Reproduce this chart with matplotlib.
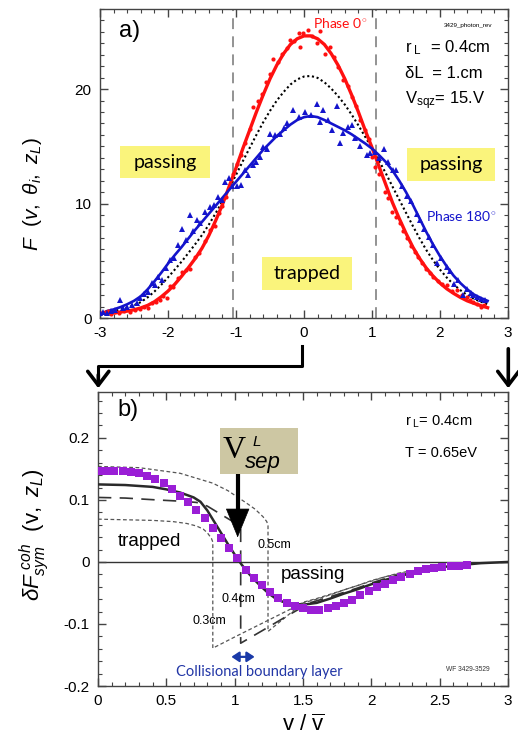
import numpy as np
import matplotlib.pyplot as plt
from matplotlib.patches import Rectangle, FancyArrowPatch
from matplotlib.lines import Line2D
from matplotlib.ticker import MultipleLocator

plt.rcParams["font.family"] = ["Liberation Sans", "DejaVu Sans"]
plt.rcParams["mathtext.fontset"] = "custom"
plt.rcParams["mathtext.rm"] = "Liberation Sans"
plt.rcParams["mathtext.it"] = "Liberation Sans:italic"
plt.rcParams["axes.unicode_minus"] = False

# ---- panel a) fitted curves on a common v grid ----
v_fit = [-2.9, -2.8, -2.7, -2.6, -2.5, -2.4, -2.3, -2.2, -2.1, -2.0,
         -1.9, -1.8, -1.7, -1.6, -1.5, -1.4, -1.3, -1.2, -1.1, -1.0,
         -0.9, -0.8, -0.7, -0.6, -0.5, -0.4, -0.3, -0.2, -0.1, 0.0,
         0.1, 0.2, 0.3, 0.4, 0.5, 0.6, 0.7, 0.8, 0.9, 1.0,
         1.1, 1.2, 1.3, 1.4, 1.5, 1.6, 1.7, 1.8, 1.9, 2.0,
         2.1, 2.2, 2.3, 2.4, 2.5, 2.6, 2.7]
red_fit = [0.40, 0.45, 0.52, 0.60, 0.72, 0.88, 1.10, 1.42, 1.85, 2.35,
           2.95, 3.65, 4.40, 5.20, 6.10, 7.20, 8.50, 9.90, 11.50, 13.10,
           14.80, 16.40, 18.00, 19.50, 20.90, 22.10, 23.10, 23.90, 24.40, 24.65,
           24.65, 24.40, 23.90, 23.10, 22.10, 20.90, 19.50, 18.00, 16.40, 14.90,
           13.30, 11.70, 10.10, 8.70, 7.40, 6.20, 5.20, 4.35, 3.65, 3.05,
           2.55, 2.15, 1.80, 1.50, 1.28, 1.08, 0.90]
blue_fit = [0.60, 0.75, 0.95, 1.20, 1.50, 1.90, 2.50, 3.20, 3.95, 4.75,
            5.50, 6.20, 6.95, 7.70, 8.40, 9.10, 9.80, 10.50, 11.20, 11.90,
            12.60, 13.30, 14.00, 14.70, 15.30, 15.90, 16.40, 16.90, 17.30, 17.55,
            17.65, 17.55, 17.30, 17.00, 16.70, 16.40, 16.05, 15.65, 15.25, 14.80,
            14.25, 13.65, 12.90, 12.00, 11.00, 9.90, 8.70, 7.50, 6.40, 5.40,
            4.50, 3.70, 3.05, 2.50, 2.05, 1.75, 1.50]
avg_fit = [0.50, 0.60, 0.74, 0.90, 1.11, 1.39, 1.80, 2.31, 2.90, 3.55,
           4.23, 4.93, 5.68, 6.45, 7.25, 8.15, 9.15, 10.20, 11.35, 12.50,
           13.70, 14.85, 16.00, 17.10, 18.10, 19.00, 19.75, 20.40, 20.85, 21.10,
           21.15, 20.98, 20.60, 20.05, 19.40, 18.65, 17.78, 16.83, 15.83, 14.85,
           13.78, 12.68, 11.50, 10.35, 9.20, 8.05, 6.95, 5.93, 5.03, 4.23,
           3.53, 2.93, 2.43, 2.00, 1.67, 1.42, 1.20]

# ---- panel a) measured points ----
v_red = [-2.98, -2.92, -2.88, -2.84, -2.78, -2.72, -2.65, -2.56, -2.48, -2.41,
         -2.35, -2.29, -2.23, -2.17, -2.12, -2.07, -2.02, -1.97, -1.92, -1.86,
         -1.80, -1.73, -1.68, -1.60, -1.55, -1.46, -1.38, -1.31, -1.25, -1.21,
         -1.15, -1.09, -1.04, -0.99, -0.92, -0.87, -0.80, -0.745, -0.67, -0.62,
         -0.56, -0.50, -0.45, -0.38, -0.33, -0.25, -0.21, -0.14, -0.08, -0.06,
         -0.01, 0.06, 0.12, 0.19, 0.235, 0.31, 0.38, 0.44, 0.50, 0.58,
         0.64, 0.70, 0.76, 0.82, 0.90, 0.95, 0.995, 1.04, 1.10, 1.19,
         1.24, 1.29, 1.36, 1.41, 1.46, 1.51, 1.57, 1.63, 1.68, 1.73,
         1.80, 1.85, 1.90, 1.97, 2.03, 2.10, 2.17, 2.25, 2.32, 2.39,
         2.44, 2.49, 2.55, 2.61, 2.65]
F_red = [0.41, 0.50, 0.64, 0.35, 0.55, 0.42, 0.60, 0.55, 0.72, 0.76,
         0.95, 0.90, 1.30, 1.42, 1.57, 1.90, 1.72, 2.80, 2.70, 3.50,
         4.05, 4.20, 4.30, 5.30, 5.65, 6.75, 7.70, 8.00, 9.20, 9.80,
         10.60, 11.60, 12.60, 13.50, 14.20, 15.30, 16.50, 18.45, 19.00, 19.60,
         20.60, 21.30, 22.60, 22.40, 23.10, 23.60, 24.30, 24.20, 24.90, 23.70,
         24.90, 25.20, 24.60, 24.00, 25.10, 23.10, 23.70, 22.80, 21.90, 20.80,
         20.30, 19.30, 18.50, 17.30, 16.40, 15.60, 14.10, 13.20, 12.60, 11.00,
         10.50, 9.30, 8.85, 8.30, 7.60, 7.00, 6.30, 5.80, 5.30, 4.80,
         4.30, 3.90, 3.60, 3.20, 3.00, 2.90, 2.40, 2.45, 2.00, 1.86,
         1.60, 1.42, 1.20, 1.00, 1.10]
v_blue = [-3.0, -2.95, -2.90, -2.84, -2.78, -2.71, -2.66, -2.61, -2.53, -2.46,
          -2.41, -2.35, -2.30, -2.24, -2.19, -2.14, -2.09, -2.03, -1.97, -1.91,
          -1.85, -1.80, -1.74, -1.68, -1.63, -1.58, -1.53, -1.46, -1.38, -1.32,
          -1.26, -1.20, -1.16, -1.10, -1.06, -0.99, -0.92, -0.87, -0.82, -0.75,
          -0.70, -0.65, -0.60, -0.55, -0.50, -0.43, -0.35, -0.30, -0.25, -0.166,
          -0.08, 0.015, 0.10, 0.19, 0.235, 0.28, 0.358, 0.407, 0.48, 0.53,
          0.578, 0.64, 0.70, 0.75, 0.82, 0.92, 0.97, 1.05, 1.11, 1.17,
          1.24, 1.31, 1.36, 1.44, 1.51, 1.57, 1.66, 1.71, 1.77, 1.84,
          1.90, 1.95, 2.02, 2.10, 2.15, 2.20, 2.27, 2.34, 2.40, 2.45,
          2.49, 2.55, 2.61, 2.66]
F_blue = [0.41, 0.55, 0.47, 0.60, 0.70, 1.57, 0.85, 0.99, 1.14, 1.34,
          1.72, 2.10, 2.30, 3.03, 2.88, 3.60, 3.32, 4.40, 5.07, 5.20,
          6.40, 7.80, 6.80, 9.00, 7.60, 8.56, 8.27, 9.30, 9.70, 9.90,
          10.60, 10.30, 11.90, 12.20, 11.50, 11.50, 11.60, 12.90, 12.50, 13.40,
          13.65, 14.10, 14.96, 14.80, 16.10, 16.00, 16.10, 16.60, 17.00, 18.20,
          17.60, 18.00, 17.70, 18.70, 17.10, 18.20, 17.30, 16.40, 18.50, 15.30,
          16.20, 16.70, 16.90, 15.70, 15.00, 14.20, 14.40, 14.50, 14.00, 14.80,
          13.60, 12.90, 12.90, 11.50, 10.70, 10.20, 9.10, 8.60, 7.80, 7.10,
          6.40, 4.80, 5.20, 4.50, 4.10, 3.00, 3.30, 2.00, 2.50, 2.20,
          2.00, 1.80, 1.70, 1.60]
v_sep_a = [-1.05, 1.06]

# ---- panel b) ----
v_sq = [0.00, 0.06, 0.12, 0.18, 0.24, 0.30, 0.36, 0.42, 0.48, 0.54,
        0.60, 0.66, 0.72, 0.78, 0.84, 0.90, 0.96, 1.02, 1.08, 1.14,
        1.20, 1.26, 1.32, 1.38, 1.44, 1.50, 1.56, 1.62, 1.68, 1.74,
        1.80, 1.86, 1.92, 1.98, 2.04, 2.10, 2.16, 2.22, 2.28, 2.34,
        2.40, 2.46, 2.52, 2.58, 2.64, 2.70]
dF_sq = [0.147, 0.147, 0.147, 0.146, 0.145, 0.143, 0.139, 0.134, 0.128, 0.118,
         0.107, 0.096, 0.084, 0.071, 0.055, 0.039, 0.023, 0.006, -0.013, -0.026,
         -0.037, -0.048, -0.058, -0.066, -0.071, -0.074, -0.077, -0.077, -0.075, -0.071,
         -0.066, -0.061, -0.054, -0.047, -0.041, -0.035, -0.029, -0.024, -0.019, -0.015,
         -0.012, -0.010, -0.008, -0.007, -0.006, -0.005]
v_sol = [0.0, 0.2, 0.4, 0.5, 0.6, 0.7, 0.75, 0.8, 0.85, 0.9,
         0.95, 1.0, 1.05, 1.1, 1.15, 1.2, 1.25, 1.3, 1.35, 1.4,
         1.5, 1.6, 1.7, 1.8, 1.9, 2.0, 2.1, 2.2, 2.3, 2.4,
         2.5, 2.6, 2.7, 2.8, 2.9, 3.0]
dF_sol = [0.125, 0.124, 0.121, 0.117, 0.112, 0.104, 0.097, 0.083, 0.065, 0.047,
          0.029, 0.012, -0.004, -0.018, -0.030, -0.041, -0.051, -0.059, -0.064, -0.067,
          -0.069, -0.066, -0.059, -0.051, -0.044, -0.036, -0.029, -0.023, -0.018, -0.013,
          -0.009, -0.006, -0.004, -0.002, -0.001, 0.0]
v_03 = [0.0, 0.2, 0.4, 0.55, 0.65, 0.72, 0.77, 0.80, 0.83, 0.84, 0.84, 1.0,
        1.2, 1.4, 1.5, 1.6, 1.7, 1.8, 1.9, 2.0, 2.1, 2.2, 2.3, 2.4]
dF_03 = [0.069, 0.068, 0.067, 0.065, 0.062, 0.058, 0.053, 0.047, 0.038, 0.032, -0.139, -0.121,
         -0.099, -0.077, -0.065, -0.059, -0.052, -0.045, -0.038, -0.031, -0.024, -0.019, -0.015, -0.011]
v_04 = [0.0, 0.2, 0.43, 0.6, 0.72, 0.8, 0.89, 0.95, 1.01, 1.044, 1.044,
        1.2, 1.4, 1.55, 1.7, 1.8, 1.9, 2.0, 2.1, 2.2, 2.3, 2.4]
dF_04 = [0.104, 0.103, 0.100, 0.098, 0.096, 0.090, 0.078, 0.070, 0.062, 0.058, -0.131,
         -0.111, -0.085, -0.066, -0.056, -0.049, -0.042, -0.034, -0.027, -0.021, -0.016, -0.012]
v_05 = [0.0, 0.3, 0.6, 0.84, 0.95, 1.086, 1.15, 1.207, 1.235, 1.244, 1.244,
        1.35, 1.5, 1.6, 1.7, 1.8, 1.9, 2.0, 2.1, 2.2, 2.3, 2.4]
dF_05 = [0.154, 0.152, 0.143, 0.127, 0.115, 0.095, 0.085, 0.073, 0.065, 0.058, -0.112,
         -0.093, -0.066, -0.060, -0.053, -0.045, -0.038, -0.030, -0.024, -0.018, -0.014, -0.010]
v_sep_b = 1.022

W, H = 518, 743
fig = plt.figure(figsize=(W / 100, H / 100), dpi=100)


def fx(px):
    return px / W


def fy(py):
    return 1 - py / H


ax1 = fig.add_axes([fx(100), fy(318), (508 - 100) / W, (318 - 9) / H])
ax2 = fig.add_axes([fx(98), fy(686), (508 - 98) / W, (686 - 392) / H])

RED = "#ff1010"
BLUE = "#1414cc"
YELLOW = "#faf47c"

# ---------------- panel a ----------------
for xv in v_sep_a:
    ax1.axvline(xv, color="#8a8a8a", lw=1.3, ls=(0, (6, 4)), zorder=1)

for (x0, x1, y0, y1, txt) in [(-2.706, -1.382, 12.23, 15.02, "passing"),
                              (1.515, 2.809, 11.97, 14.85, "passing"),
                              (-0.618, 0.706, 2.45, 5.33, "trapped")]:
    ax1.add_patch(Rectangle((x0, y0), x1 - x0, y1 - y0, fc=YELLOW, ec="none", zorder=0))
    ax1.text((x0 + x1) / 2, (y0 + y1) / 2, txt, ha="center", va="center",
             fontsize=14, family=["Lato", "DejaVu Sans"], zorder=1)

ax1.plot(v_fit, avg_fit, color="k", ls=(0, (1, 1.3)), lw=1.5, zorder=2)
ax1.plot(v_fit, red_fit, color=RED, lw=2.4, zorder=3)
ax1.plot(v_fit, blue_fit, color=BLUE, lw=1.9, zorder=3)
ax1.plot(v_red, F_red, "o", color=RED, ms=3.0, mew=0, zorder=4)
ax1.plot(v_blue, F_blue, "^", color=BLUE, ms=4.0, mew=0, zorder=4)

ax1.set_xlim(-3, 3)
ax1.set_ylim(0, 27)
ax1.xaxis.set_major_locator(MultipleLocator(1))
ax1.xaxis.set_minor_locator(MultipleLocator(0.2))
ax1.yaxis.set_major_locator(MultipleLocator(10))
ax1.yaxis.set_minor_locator(MultipleLocator(1))

ax1.text(-2.56, 25.1, "a)", fontsize=17, ha="center", va="center")
ax1.text(0.53, 25.75, "Phase 0$^{\\circ}$", color=RED, fontsize=10,
         ha="center", va="center", family=["Lato", "DejaVu Sans"])
ax1.text(2.41, 25.6, "3429_photon_rev", fontsize=4.5, ha="center", va="center")
ax1.text(1.485, 23.6, r"r$_{\ \mathrm{L}}$  = 0.4cm", fontsize=12, ha="left", va="center")
ax1.text(1.485, 21.4, "\u03b4L  = 1.cm", fontsize=12, ha="left", va="center")
ax1.text(1.485, 19.0, r"V$_{\mathrm{sqz}}$= 15.V", fontsize=12, ha="left", va="center")
ax1.text(1.79, 8.85, "Phase 180$^{\\circ}$", color=BLUE, fontsize=10,
         ha="left", va="center", family=["Lato", "DejaVu Sans"])

# ---------------- panel b ----------------
ax2.axhline(0, color="#333333", lw=1.0, zorder=1)
ax2.plot(v_03, dF_03, color="#555555", lw=0.9, ls=(0, (3, 2)), zorder=2)
ax2.plot(v_05, dF_05, color="#555555", lw=0.9, ls=(0, (3, 2)), zorder=2)
ax2.plot(v_04, dF_04, color="#333333", lw=1.2, ls=(0, (8, 5)), zorder=2)
ax2.plot(v_sol, dF_sol, color="#2a2a2a", lw=1.8, zorder=3)
ax2.plot(v_sq, dF_sq, "s", color="#9a1ed6", ms=6.0, mew=0, zorder=4)

ax2.set_xlim(0, 3)
ax2.set_ylim(-0.2, 0.274)
ax2.xaxis.set_major_locator(MultipleLocator(0.5))
ax2.xaxis.set_minor_locator(MultipleLocator(0.1))
ax2.yaxis.set_major_locator(MultipleLocator(0.1))
ax2.yaxis.set_minor_locator(MultipleLocator(0.02))
ax2.set_xticks([0, 0.5, 1, 1.5, 2, 2.5, 3], ["0", "0.5", "1", "1.5", "2", "2.5", "3"])
ax2.set_yticks([-0.2, -0.1, 0, 0.1, 0.2], ["-0.2", "-0.1", "0", "0.1", "0.2"])

# V_sep box and arrow
ax2.add_patch(Rectangle((0.89, 0.142), 0.57, 0.074, fc="#cdc7a3", ec="none", zorder=5))
ax2.text(1.0, 0.179, "V", fontsize=23, family=["Liberation Serif", "DejaVu Serif"],
         ha="center", va="center", zorder=6)
ax2.text(1.205, 0.160, "sep", fontsize=16, style="italic", ha="center", va="center", zorder=6)
ax2.text(1.162, 0.194, "L", fontsize=11, style="italic", ha="center", va="center", zorder=6)
ax2.plot([v_sep_b, v_sep_b], [0.142, 0.065], color="k", lw=3, solid_capstyle="butt", zorder=6)
ax2.add_patch(FancyArrowPatch((v_sep_b, 0.07), (v_sep_b, 0.035),
                              arrowstyle="-|>,head_length=1.1,head_width=0.45",
                              mutation_scale=18, lw=0.5, color="k", zorder=6))

ax2.text(0.217, 0.245, "b)", fontsize=17, ha="center", va="center")
ax2.text(2.244, 0.226, r"r$_{\ \mathrm{L}}$= 0.4cm", fontsize=10.5, ha="left", va="center")
ax2.text(2.244, 0.175, "T = 0.65eV", fontsize=10.5, ha="left", va="center")
ax2.text(0.38, 0.033, "trapped", fontsize=13.5, ha="center", va="center")
ax2.text(1.573, -0.021, "passing", fontsize=13.5, ha="center", va="center")
ax2.text(1.293, 0.027, "0.5cm", fontsize=9, ha="center", va="center")
ax2.text(1.025, -0.059, "0.4cm", fontsize=9, ha="center", va="center")
ax2.text(0.817, -0.096, "0.3cm", fontsize=9, ha="center", va="center")
ax2.add_patch(FancyArrowPatch((0.976, -0.153), (1.146, -0.153),
                              arrowstyle="<|-|>,head_length=0.45,head_width=0.3",
                              mutation_scale=10, lw=1.6, color="#1a3aa8",
                              shrinkA=0, shrinkB=0))
ax2.text(1.183, -0.177, "Collisional boundary layer", fontsize=10.5, color="#2236a6",
         ha="center", va="center", family=["Lato", "DejaVu Sans"])
ax2.text(2.704, -0.174, "WF 3429-3529", fontsize=4.8, color="#333333", ha="center", va="center")

for ax in (ax1, ax2):
    ax.tick_params(which="both", direction="in", top=True, right=True,
                   colors="#444444", labelcolor="k", labelsize=11, pad=6)
    ax.tick_params(which="major", length=6, width=1)
    ax.tick_params(which="minor", length=3, width=0.8)
    for s in ax.spines.values():
        s.set_color("#444444")
        s.set_linewidth(1.0)

# axis labels
fig.text(fx(33), fy(194), r"$F\ \ (v,\ \theta_i,\ z_L)$", rotation=90,
         fontsize=15, ha="center", va="center")
fig.text(fx(34), fy(535), r"$\delta F_{sym}^{\ coh}\ \ (\mathrm{v},\ z_L)$", rotation=90,
         fontsize=16, ha="center", va="center")
fig.text(fx(303), fy(725), r"v / $\overline{\mathrm{v}}$", fontsize=16, ha="center", va="center")

# connecting arrows between panels
fig.add_artist(Line2D([fx(302.3), fx(302.3), fx(98.3), fx(98.3)],
                      [fy(346), fy(366), fy(366), fy(375)],
                      color="k", lw=2.2, transform=fig.transFigure))
for xa, ya in [(98.3, 372), (508.3, 346)]:
    fig.add_artist(FancyArrowPatch((fx(xa), fy(ya)), (fx(xa), fy(391)),
                                   arrowstyle="->,head_length=0.5,head_width=0.38",
                                   mutation_scale=20, lw=2.6, color="k",
                                   transform=fig.transFigure))

fig.savefig("out.png", dpi=100)
